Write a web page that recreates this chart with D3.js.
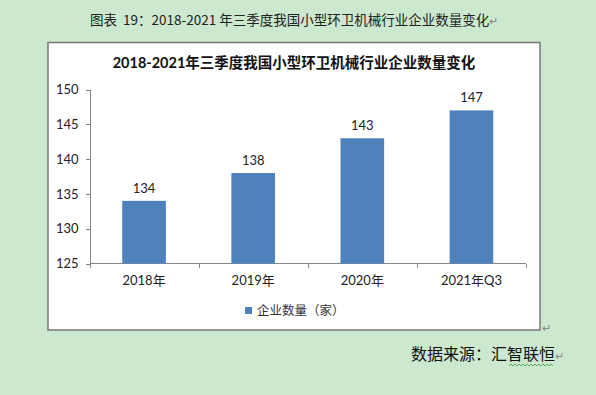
<!DOCTYPE html>
<html>
<head>
<meta charset="utf-8">
<script src="https://cdn.jsdelivr.net/npm/d3@7"></script>
<style>
  html, body { margin: 0; padding: 0; background: #cce8cf; }
  svg { display: block; }
  .axis path, .axis line { stroke: #868686; shape-rendering: crispEdges; }
  .axis text { font-family: Lato, "Noto Sans CJK SC", sans-serif; font-size: 13px; fill: #222; }
</style>
</head>
<body>
<svg id="chart" width="596" height="395"></svg>
<script>
// values
var categories = ["2018年", "2019年", "2020年", "2021年Q3"],
    counts = [134, 138, 143, 147],
    yTicks = [125, 130, 135, 140, 145, 150],
    seriesName = "企业数量（家）",
    docTitle = "图表\u00a0\u00a019：2018-2021 年三季度我国小型环卫机械行业企业数量变化",
    chartTitle = "2018-2021年三季度我国小型环卫机械行业企业数量变化",
    sourceText = "数据来源：汇智联恒";

var svg = d3.select("#chart"),
    cjk = "\"Noto Sans CJK SC\", sans-serif",
    latin = "Lato, \"Noto Sans CJK SC\", sans-serif";

// document caption above the chart
svg.append("text")
    .attr("x", 90)
    .attr("y", 25)
    .style("font-family", cjk)
    .style("font-size", "13.5px")
    .style("fill", "#222")
    .text(docTitle)
  .append("tspan")
    .style("fill", "#888")
    .style("font-size", "11px")
    .text("↵");

// white chart frame
svg.append("rect")
    .attr("x", 48)
    .attr("y", 42.5)
    .attr("width", 492)
    .attr("height", 287.5)
    .attr("fill", "#fff")
    .attr("stroke", "#777")
    .attr("stroke-width", 1.5);

svg.append("text")
    .attr("x", 542)
    .attr("y", 332)
    .style("font-size", "11px")
    .style("fill", "#888")
    .text("↵");

// chart title
svg.append("text")
    .attr("x", 294)
    .attr("y", 68)
    .attr("text-anchor", "middle")
    .style("font-family", latin)
    .style("font-size", "14.5px")
    .style("font-weight", "bold")
    .style("fill", "#111")
    .text(chartTitle);

var x = d3.scaleBand()
    .domain(categories)
    .range([89.5, 526])
    .paddingInner(0.6)
    .paddingOuter(0.3);

var y = d3.scaleLinear()
    .domain([yTicks[0], yTicks[yTicks.length - 1]])
    .range([263.5, 89.5]);

// y axis
svg.append("g")
    .attr("class", "axis")
    .attr("transform", "translate(89.5,0)")
    .call(d3.axisLeft(y)
        .tickValues(yTicks)
        .tickSize(4)
        .tickSizeOuter(0)
        .tickPadding(7));

// x axis: labels at band centres, ticks at band boundaries
var xAxis = svg.append("g")
    .attr("class", "axis")
    .attr("transform", "translate(0,263.5)")
    .call(d3.axisBottom(x)
        .tickSize(0)
        .tickPadding(12));

xAxis.select(".domain").remove();

var step = x.step(),
    x0 = x.range()[0],
    bounds = d3.range(categories.length + 1).map(function(i) { return x0 + i * step; });

xAxis.append("line")
    .attr("x1", bounds[0])
    .attr("x2", bounds[bounds.length - 1])
    .attr("y1", 0)
    .attr("y2", 0);

xAxis.selectAll("line.bound")
    .data(bounds)
  .enter().append("line")
    .attr("class", "bound")
    .attr("x1", function(d) { return Math.round(d) + 0.5; })
    .attr("x2", function(d) { return Math.round(d) + 0.5; })
    .attr("y1", 0)
    .attr("y2", 4);

// bars
svg.selectAll("rect.bar")
    .data(counts)
  .enter().append("rect")
    .attr("class", "bar")
    .attr("x", function(d, i) { return x(categories[i]); })
    .attr("width", x.bandwidth())
    .attr("y", function(d) { return y(d); })
    .attr("height", function(d) { return y.range()[0] - y(d); })
    .attr("fill", "#4f81bd");

// value labels
svg.selectAll("text.value")
    .data(counts)
  .enter().append("text")
    .attr("class", "value")
    .attr("x", function(d, i) { return x(categories[i]) + x.bandwidth() / 2; })
    .attr("y", function(d) { return y(d) - 8; })
    .attr("text-anchor", "middle")
    .style("font-family", latin)
    .style("font-size", "13px")
    .style("fill", "#222")
    .text(function(d) { return d; });

// legend
var legend = svg.append("g")
    .attr("transform", "translate(245,307)");

legend.append("rect")
    .attr("width", 7)
    .attr("height", 7)
    .attr("fill", "#4f81bd");

legend.append("text")
    .attr("x", 12)
    .attr("y", 8)
    .style("font-family", cjk)
    .style("font-size", "12.5px")
    .style("fill", "#333")
    .text(seriesName);

// source line
var src = svg.append("text")
    .attr("x", 411)
    .attr("y", 360)
    .style("font-family", cjk)
    .style("font-size", "16px")
    .style("fill", "#111")
    .text(sourceText);

src.append("tspan")
    .style("fill", "#888")
    .style("font-size", "11px")
    .text("↵");

// spell-check squiggle under the company name
var wave = d3.range(509, 555, 2).map(function(px, i) { return [px, i % 2 ? 364 : 366]; });
svg.append("path")
    .attr("d", d3.line()(wave))
    .attr("fill", "none")
    .attr("stroke", "#3aa03a")
    .attr("stroke-width", 0.8);
</script>
</body>
</html>
